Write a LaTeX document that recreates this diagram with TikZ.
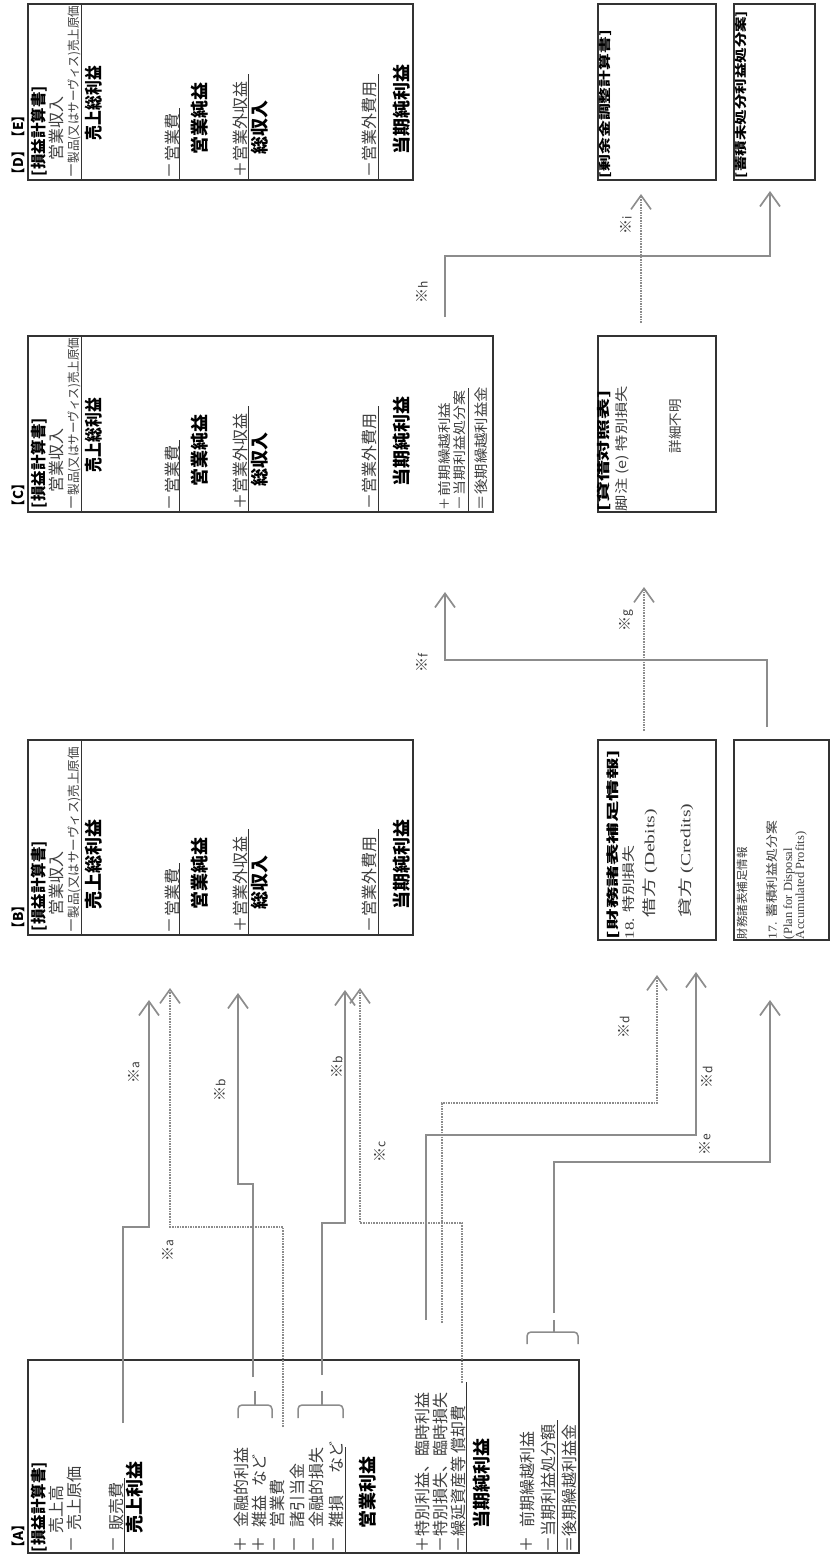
\documentclass[tikz,border=0pt]{standalone}
\usepackage{fontspec}
\usepackage{graphicx}
\newfontfamily\jp{Noto Sans CJK JP}
\newfontfamily\lser{Liberation Serif}
\usetikzlibrary{arrows.meta}
\definecolor{txg}{HTML}{3E3E3E}
\definecolor{lng}{HTML}{8C8C8C}
\definecolor{bxc}{HTML}{333333}
\tikzset{
 tx/.style={rotate=90, anchor=west, inner sep=0pt, outer sep=0pt, text=txg, font=\jp\fontsize{16}{16}\selectfont},
 hd/.style={tx, text=black, font=\jp\bfseries\fontsize{15.5}{16}\selectfont},
 bd/.style={tx, text=black, font=\jp\bfseries\fontsize{18}{19}\selectfont},
 sm/.style={tx, font=\jp\fontsize{12.5}{13}\selectfont},
 lab/.style={tx, text=black, font=\jp\bfseries\fontsize{13.5}{14}\selectfont},
 nt/.style={rotate=90, anchor=center, inner sep=0pt, text=txg, font=\jp\fontsize{15}{15}\selectfont},
 box/.style={draw=bxc, line width=1.3pt, inner sep=0pt, outer sep=0pt, anchor=north west},
 ul/.style={draw=black!80, line width=0.9pt},
 conn/.style={draw=lng, line width=1.7pt},
 dconn/.style={draw=lng, line width=1.6pt, densely dotted},
 arr/.style={-{Straight Barb[length=14pt,width=20pt]}},
 brc/.style={draw=lng, line width=1.5pt, rounded corners=4pt},
}
\newcommand\kome[1]{※{\fontsize{12}{12}\selectfont #1}}
% #1 prefix, #2 base y, #3 indent of first bold, #4 its scale, #5 product scale, #6 box height
\newcommand\plcont[6]{%
 \node[hd] (#1h) at (39,{#2-2}) {[損益計算書]};
 \node[tx] (#1r) at (56,{#2-18}) {営業収入};
 \node[tx] (#1cm) at (74,{#2}) {－};
 \node[sm] (#1c) at (74,{#2-15}) {\scalebox{#5}[1]{製品(又はサーヴィス)売上原価}};
 \draw[ul] (81,{#2+1}) -- (81,{#2-#6+2});
 \node[bd] (#1g) at (94,{#2-#3}) {\scalebox{#4}[1]{売上総利益}};
 \node[tx] (#1om) at (172,{#2}) {－};
 \node[tx] (#1o) at (172,{#2-17}) {営業費};
 \draw[ul] (179,{#2+1}) -- (179,{#2-70});
 \node[bd] (#1n) at (200,{#2-24}) {営業純益};
 \node[tx] (#1x) at (240,{#2-1}) {＋営業外収益};
 \draw[ul] (248,{#2+1}) -- (248,{#2-104});
 \node[bd] (#1t) at (260,{#2-24}) {総収入};
 \node[tx] (#1y) at (369,{#2-1}) {－営業外費用};
 \draw[ul] (378,{#2+1}) -- (378,{#2-104});
 \node[bd] (#1p) at (402,{#2-24}) {当期純利益};
}
\begin{document}
\begin{tikzpicture}[x=1pt,y=-1pt]
\useasboundingbox (0,0) rectangle (830,1556);
\fill[white] (0,0) rectangle (830,1556);

% ---------- main boxes ----------
\node[box, minimum width=551pt, minimum height=193pt] (boxA) at (28,1360) {};
\node[box, minimum width=385pt, minimum height=195pt] (boxB) at (28,740) {};
\node[box, minimum width=465pt, minimum height=176pt] (boxC) at (28,336) {};
\node[box, minimum width=385pt, minimum height=176pt] (boxDE) at (28,4) {};
% ---------- side boxes ----------
\node[box, minimum width=118pt, minimum height=176pt] (bxS) at (598,4) {};
\node[box, minimum width=81pt, minimum height=176pt] (bxR) at (734,4) {};
\node[box, minimum width=118pt, minimum height=176pt] (bxT) at (598,336) {};
\node[box, minimum width=118pt, minimum height=200pt] (bxF) at (598,740) {};
\node[box, minimum width=95pt, minimum height=200pt] (bxG) at (734,740) {};

% ---------- labels ----------
\node[lab] (labA) at (18,1554) {【A】};
\node[lab] (labB) at (18,935) {【B】};
\node[lab] (labC) at (18,513) {【C】};
\node[lab] (labDE) at (18,181) {【D】【E】};

% ---------- box A ----------
\node[hd] (a0) at (39,1552) {[損益計算書]};
\node[tx] (a1) at (56,1533) {売上高};
\node[tx] (a2m) at (74,1552) {－};
\node[tx] (a2) at (74,1530) {売上原価};
\node[tx] (a3m) at (116,1552) {－};
\node[tx] (a3) at (116,1530) {販売費};
\draw[ul] (124,1553) -- (124,1478);
\node[bd] (a4) at (135,1533) {売上利益};
\node[tx] (a5m) at (241,1552) {＋};
\node[tx] (a5) at (241,1527) {金融的利益};
\node[tx] (a6m) at (259,1552) {＋};
\node[tx] (a6) at (259,1527) {雑益\hspace{9pt}など};
\node[tx] (a7m) at (277,1552) {－};
\node[tx] (a7) at (277,1527) {営業費};
\node[tx] (a8m) at (297,1552) {－};
\node[tx] (a8) at (297,1527) {諸引当金};
\node[tx] (a9m) at (316,1552) {－};
\node[tx] (a9) at (316,1527) {金融的損失};
\node[tx] (a10m) at (336,1552) {－};
\node[tx] (a10) at (336,1527) {雑損\hspace{22pt}など};
\draw[ul] (345,1553) -- (345,1447);
\node[bd] (a11) at (368,1528) {営業利益};
\node[tx] (a12) at (422,1552) {＋特別利益、臨時利益};
\node[tx] (a13) at (440,1552) {－特別損失、臨時損失};
\node[tx] (a14) at (458,1552) {－繰延資産等\hspace{3pt}償却費};
\draw[ul] (466,1553) -- (466,1382);
\node[bd] (a15) at (482,1528) {当期純利益};
\node[tx] (a16m) at (527,1552) {＋};
\node[tx] (a16) at (527,1527) {前期繰越利益};
\node[tx] (a17) at (548,1552) {－当期利益処分額};
\draw[ul] (557,1553) -- (557,1420);
\node[tx] (a18) at (569,1552) {＝後期繰越利益金};

% ---------- boxes B, C, D/E ----------
\plcont{b}{933}{24}{1}{1}{195}
\plcont{c}{510}{38}{0.82}{0.92}{176}
\plcont{d}{178}{38}{0.82}{0.92}{176}
\node[tx, font=\jp\fontsize{13}{13}\selectfont] (cpm) at (445,510) {＋};
\node[tx, font=\jp\fontsize{13}{13}\selectfont] (cpv) at (445,496) {\scalebox{1.2}[1]{前期繰越利益}};
\node[tx, font=\jp\fontsize{13}{13}\selectfont] (cdm) at (460,510) {\scalebox{1.15}[1]{－当期利益処分案}};
\draw[ul] (468,512) -- (468,388);
\node[tx, font=\jp\fontsize{14}{14}\selectfont] (cnx) at (481,510) {\scalebox{1.1}[1]{＝後期繰越利益金}};

% ---------- side box texts ----------
\node[hd, font=\jp\bfseries\fontsize{12}{12}\selectfont] (s0) at (605,178) {\scalebox{1.4}[1]{[剰余金調整計算書]}};
\node[hd, font=\jp\bfseries\fontsize{12}{12}\selectfont] (r0) at (741,178) {\scalebox{1.29}[1]{[蓄積未処分利益処分案]}};
\node[hd, font=\jp\bfseries\fontsize{13}{13}\selectfont] (t0) at (604,511) {\scalebox{1.6}[1]{[貸借対照表]}};
\node[tx, font=\jp\fontsize{13}{13}\selectfont] (t1) at (622,511) {\scalebox{1.25}[1]{脚注 (e) 特別損失}};
\node[tx, font=\jp\fontsize{13.5}{13}\selectfont] (t2) at (675,453) {詳細不明};
\node[hd, font=\jp\bfseries\fontsize{12.5}{13}\selectfont] (f0) at (613,939) {\scalebox{1.72}[1]{[財務諸表補足情報]}};
\node[tx, font=\jp\fontsize{13}{13}\selectfont] (f1) at (629,939) {\scalebox{1.3}[1]{{\lser 18.} 特別損失}};
\node[tx, font=\jp\fontsize{14}{14}\selectfont] (f2) at (650,917) {\scalebox{1.4}[1]{借方 {\lser (Debits)}}};
\node[tx, font=\jp\fontsize{14}{14}\selectfont] (f3) at (686,917) {\scalebox{1.4}[1]{貸方 {\lser (Credits)}}};
\node[tx, font=\jp\fontsize{11.5}{11}\selectfont] (g0) at (742,939) {財務諸表補足情報};
\node[tx, font=\jp\fontsize{12}{12}\selectfont] (g1) at (772,939) {\scalebox{1.15}[1]{{\lser 17.} 蓄積利益処分案}};
\node[tx, font=\lser\fontsize{12.5}{12}\selectfont] (g2) at (789,939) {(Plan for Disposal};
\node[tx, font=\lser\fontsize{12.5}{12}\selectfont] (g3) at (801,939) {Accumulated Profits)};

% ---------- braces ----------
\draw[brc] (238,1418) -- (238,1405) -- (272,1405) -- (272,1418);
\draw[brc] (255,1405) -- (255,1391);
\draw[brc] (298,1418) -- (298,1405) -- (343,1405) -- (343,1418);
\draw[brc] (322,1405) -- (322,1391);
\draw[brc] (527,1344) -- (527,1332) -- (578,1332) -- (578,1344);
\draw[brc] (554,1332) -- (554,1320);

% ---------- connectors ----------
\coordinate (aSs) at (123,1423); \coordinate (aSe) at (149,1000);
\draw[conn, arr] (aSs) -- (123,1227) -- (149,1227) -- (aSe);
\coordinate (aDs) at (283,1427); \coordinate (aDe) at (170,988);
\draw[dconn, arr] (aDs) -- (283,1227) -- (170,1227) -- (aDe);
\coordinate (b1s) at (253,1377); \coordinate (b1e) at (238,993);
\draw[conn, arr] (b1s) -- (253,1184) -- (238,1184) -- (b1e);
\coordinate (b2s) at (322,1375); \coordinate (b2e) at (345,990);
\draw[conn, arr] (b2s) -- (322,1223) -- (345,1223) -- (b2e);
\coordinate (cDs) at (462,1383); \coordinate (cDe) at (360,988);
\draw[dconn, arr] (cDs) -- (462,1223) -- (360,1223) -- (cDe);
\coordinate (dSs) at (426,1320); \coordinate (dSe) at (696,972);
\draw[conn, arr] (dSs) -- (426,1135) -- (696,1135) -- (dSe);
\coordinate (dDs) at (442,1323); \coordinate (dDe) at (657,975);
\draw[dconn, arr] (dDs) -- (442,1103) -- (657,1103) -- (dDe);
\coordinate (eSs) at (554,1313); \coordinate (eSe) at (770,1000);
\draw[conn, arr] (eSs) -- (554,1162) -- (770,1162) -- (eSe);
\coordinate (fSs) at (767,727); \coordinate (fSe) at (445,592);
\draw[conn, arr] (fSs) -- (767,660) -- (445,660) -- (fSe);
\coordinate (gDs) at (644,731); \coordinate (gDe) at (644,587);
\draw[dconn, arr] (gDs) -- (gDe);
\coordinate (hSs) at (445,317); \coordinate (hSe) at (770,191);
\draw[conn, arr] (hSs) -- (445,256) -- (770,256) -- (hSe);
\coordinate (iDs) at (641,323); \coordinate (iDe) at (641,194);
\draw[dconn, arr] (iDs) -- (iDe);

% ---------- connector notes ----------
\node[nt] (na1) at (134,1073) {\kome{a}};
\node[nt] (na2) at (168,1251) {\kome{a}};
\node[nt] (nb1) at (220,1090) {\kome{b}};
\node[nt] (nb2) at (337,1067) {\kome{b}};
\node[nt] (nc) at (380,1152) {\kome{c}};
\node[nt] (nd1) at (624,1027) {\kome{d}};
\node[nt] (nd2) at (707,1077) {\kome{d}};
\node[nt] (ne) at (705,1145) {\kome{e}};
\node[nt] (nf) at (422,663) {\kome{f}};
\node[nt] (ng) at (626,621) {\kome{g}};
\node[nt] (nh) at (422,292) {\kome{h}};
\node[nt] (ni) at (626,225) {\kome{i}};
\end{tikzpicture}
\end{document}
